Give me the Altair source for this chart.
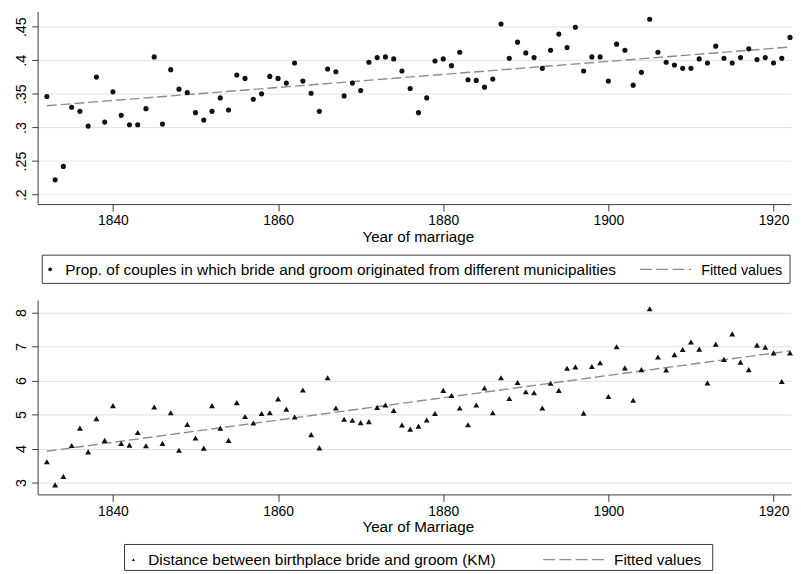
import altair as alt
import pandas as pd

# ---------------- data ----------------
years = list(range(1832, 1923))

prop_diff = [
    0.346, 0.222, 0.242, 0.330, 0.324, 0.302, 0.375, 0.308, 0.353, 0.318,
    0.304, 0.304, 0.328, 0.405, 0.305, 0.386, 0.357, 0.352, 0.322, 0.311,
    0.324, 0.344, 0.326, 0.378, 0.373, 0.342, 0.350, 0.376, 0.373, 0.366,
    0.396, 0.369, 0.351, 0.324, 0.387, 0.383, 0.347, 0.366, 0.355, 0.397,
    0.404, 0.405, 0.402, 0.384, 0.358, 0.322, 0.344, 0.399, 0.402, 0.392,
    0.412, 0.371, 0.370, 0.360, 0.372, 0.454, 0.403, 0.427, 0.411, 0.404,
    0.388, 0.415, 0.439, 0.419, 0.449, 0.384, 0.405, 0.405, 0.369, 0.424,
    0.415, 0.363, 0.382, 0.461, 0.412, 0.397, 0.393, 0.388, 0.388, 0.402,
    0.396, 0.421, 0.403, 0.396, 0.404, 0.417, 0.401, 0.404, 0.396, 0.403,
    0.434,
]

distance_km = [
    3.61, 2.93, 3.18, 4.09, 4.60, 3.90, 4.88, 4.24, 5.26, 4.15,
    4.10, 4.47, 4.08, 5.22, 4.15, 5.05, 3.95, 4.71, 4.31, 4.01,
    5.26, 4.60, 4.24, 5.35, 4.94, 4.75, 5.03, 5.05, 5.46, 5.16,
    4.93, 5.72, 4.41, 4.02, 6.08, 5.19, 4.86, 4.83, 4.76, 4.79,
    5.21, 5.28, 5.12, 4.69, 4.57, 4.66, 4.84, 5.03, 5.71, 5.56,
    5.19, 4.70, 5.28, 5.78, 5.05, 6.08, 5.47, 5.94, 5.67, 5.64,
    5.19, 5.92, 5.71, 6.36, 6.40, 5.04, 6.41, 6.52, 5.53, 6.99,
    6.37, 5.42, 6.32, 8.11, 6.69, 6.31, 6.76, 6.91, 7.13, 6.92,
    5.93, 7.07, 6.62, 7.37, 6.54, 6.32, 7.04, 6.98, 6.81, 5.97,
    6.81,
]

# fitted (linear prediction) lines, at the end years
fit_years = [1832, 1922]
fit_top = [0.3324, 0.4197]
fit_bottom = [3.92, 6.87]

x_ticks = [1840, 1860, 1880, 1900, 1920]
top_ticks = [0.2, 0.25, 0.3, 0.35, 0.4, 0.45]
bottom_ticks = [3, 4, 5, 6, 7, 8]

top_xtitle = "Year of marriage"
bottom_xtitle = "Year of Marriage"
top_legend = ["Prop. of couples in which bride and groom originated from different municipalities",
              "Fitted values"]
bottom_legend = ["Distance between birthplace bride and groom (KM)", "Fitted values"]

# ---------------- style ----------------
FONT = "Liberation Sans"
W = 763
H1 = 195
H2 = 197
X_DOMAIN = [1830.88, 1922.12]
AXIS_COLOR = "#3a3a3a"
GRID_COLOR = "#d9e4e8"
FIT_COLOR = "#8c8c8c"
MARK_COLOR = "#111111"

df_top = pd.DataFrame({"year": years, "value": prop_diff})
df_bot = pd.DataFrame({"year": years, "value": distance_km})
df_fit_top = pd.DataFrame({"year": fit_years, "value": fit_top})
df_fit_bot = pd.DataFrame({"year": fit_years, "value": fit_bottom})
one = pd.DataFrame({"k": [0]})


def x_enc(title):
    return alt.X(
        "year:Q",
        scale=alt.Scale(domain=X_DOMAIN, nice=False, zero=False),
        axis=alt.Axis(
            values=x_ticks, tickCount=len(x_ticks), format="d", title=title, grid=False,
            domainColor=AXIS_COLOR, tickColor=AXIS_COLOR, tickSize=7,
            labelPadding=3, labelFont=FONT, labelFontSize=14, labelColor="#000",
            labelOverlap=False,
            titleFont=FONT, titleFontSize=15.4, titleFontWeight="normal",
            titleColor="#000", titleX=385, titleY=37.5, titleAlign="center",
            titleBaseline="alphabetic",
        ),
    )


def y_enc(domain, ticks, label_expr):
    return alt.Y(
        "value:Q",
        scale=alt.Scale(domain=domain, nice=False, zero=False),
        axis=alt.Axis(
            values=ticks, tickCount=len(ticks), labelExpr=label_expr, title=None, grid=True,
            gridColor=GRID_COLOR, gridWidth=1, domainColor=AXIS_COLOR,
            tickColor=AXIS_COLOR, tickSize=6, labelAngle=270, labelAlign="center",
            labelBaseline="bottom", labelPadding=3, labelFont=FONT,
            labelFontSize=14.5, labelColor="#000", labelOverlap=False,
            minExtent=30, maxExtent=30,
        ),
    )


def legend_layers(box, sym_x, sym_y, sym_shape, sym_size, text_x, text_base,
                  dash_x, dash_x2, fit_x, labels, font_size, fit_font_size):
    x1, x2, y1, y2 = box
    box_layer = alt.Chart(one).mark_rect(
        fill="white", stroke=AXIS_COLOR, strokeWidth=1
    ).encode(x=alt.value(x1), x2=alt.value(x2), y=alt.value(y1), y2=alt.value(y2))
    sym = alt.Chart(one).mark_point(
        filled=True, shape=sym_shape, size=sym_size, color=MARK_COLOR, opacity=1
    ).encode(x=alt.value(sym_x), y=alt.value(sym_y))
    t1 = alt.Chart(one).mark_text(
        align="left", baseline="alphabetic", font=FONT, fontSize=font_size, color="#000"
    ).encode(x=alt.value(text_x), y=alt.value(text_base), text=alt.value(labels[0]))
    dash = alt.Chart(one).mark_rule(
        color=FIT_COLOR, strokeDash=[12, 4.5], strokeWidth=1.2
    ).encode(x=alt.value(dash_x), x2=alt.value(dash_x2), y=alt.value(sym_y))
    t2 = alt.Chart(one).mark_text(
        align="left", baseline="alphabetic", font=FONT, fontSize=fit_font_size, color="#000"
    ).encode(x=alt.value(fit_x), y=alt.value(text_base), text=alt.value(labels[1]))
    return [box_layer, sym, t1, dash, t2]


# ---------------- top panel ----------------
top_pts = alt.Chart(df_top).mark_point(
    filled=True, shape="circle", size=27, color=MARK_COLOR, opacity=1
).encode(
    x=x_enc(top_xtitle),
    y=y_enc([0.1859, 0.4725], top_ticks, "substring(format(datum.value, '.2~f'), 1)"),
)
top_fit = alt.Chart(df_fit_top).mark_line(
    color=FIT_COLOR, strokeDash=[10, 4], strokeWidth=1.4
).encode(x="year:Q", y="value:Q")

top_leg = legend_layers(
    box=(4.7, 762, 246.7, 275.3), sym_x=12.7, sym_y=261, sym_shape="circle", sym_size=14,
    text_x=28, text_base=267, dash_x=610, dash_x2=662, fit_x=672,
    labels=top_legend, font_size=15.6, fit_font_size=14.5,
)

top = alt.layer(*top_leg, top_fit, top_pts).properties(width=W, height=H1)

# ---------------- bottom panel ----------------
bot_pts = alt.Chart(df_bot).mark_point(
    filled=True, shape="triangle-up", size=36, color=MARK_COLOR, opacity=1
).encode(
    x=x_enc(bottom_xtitle),
    y=y_enc([2.651, 8.369], bottom_ticks, "format(datum.value, 'd')"),
)
bot_fit = alt.Chart(df_fit_bot).mark_line(
    color=FIT_COLOR, strokeDash=[10, 4], strokeWidth=1.4
).encode(x="year:Q", y="value:Q")

bot_leg = legend_layers(
    box=(88, 683.7, 247.7, 274), sym_x=97, sym_y=263, sym_shape="triangle-up", sym_size=10,
    text_x=112, text_base=268.3, dash_x=512, dash_x2=574, fit_x=583.7,
    labels=bottom_legend, font_size=15.6, fit_font_size=15.6,
)

bottom = alt.layer(*bot_leg, bot_fit, bot_pts).properties(width=W, height=H2)

chart = (
    alt.vconcat(top, bottom, spacing=16)
    .properties(padding={"left": 0, "top": 0, "right": 0, "bottom": 0}, background="white")
    .configure_view(stroke=None)
)

chart.save("out.html", embed_options={"renderer": "svg", "actions": False})
